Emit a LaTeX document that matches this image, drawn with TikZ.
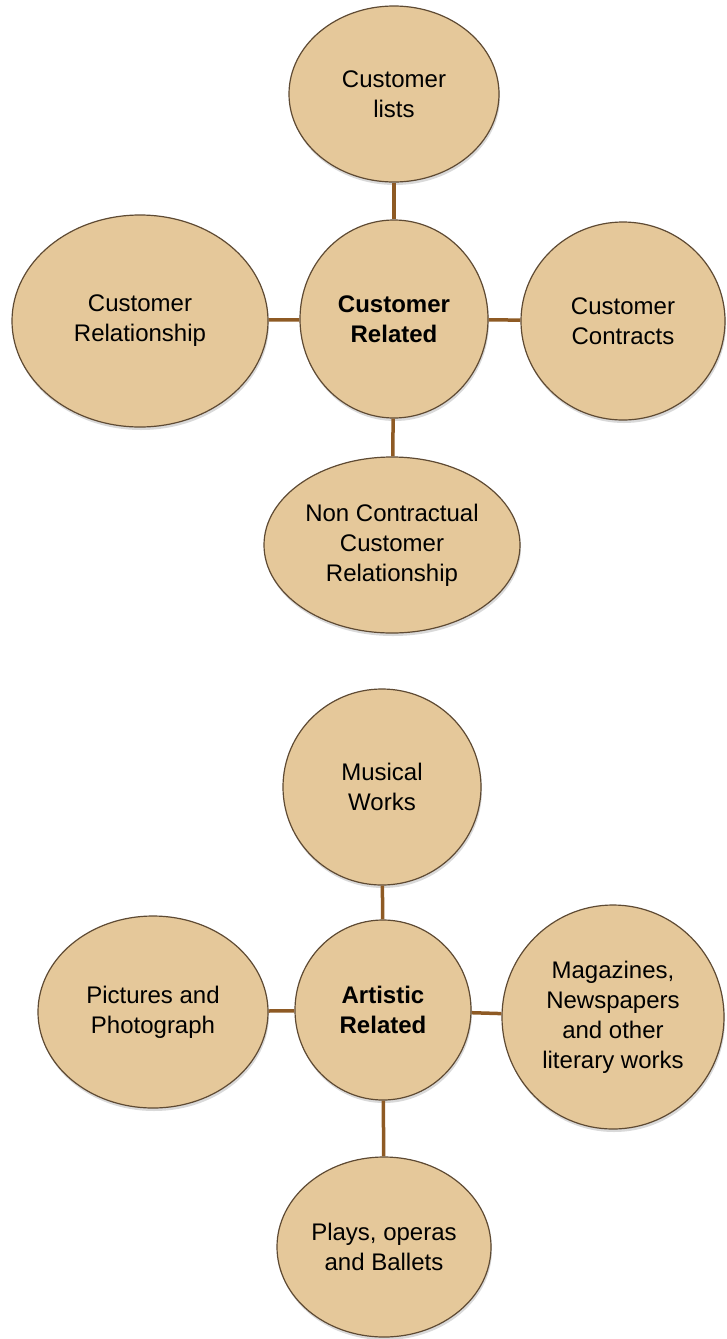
\documentclass[tikz,border=0pt]{standalone}
\usepackage{fontspec}
\setmainfont{Liberation Sans}
\usetikzlibrary{shapes.geometric,shadows}
\definecolor{tanfill}{HTML}{E5C89A}
\definecolor{tanedge}{HTML}{5E4A33}
\definecolor{linkbrown}{HTML}{8E5A24}
\tikzset{
  bubble/.style={ellipse, draw=tanedge, line width=1.2pt, fill=tanfill, inner sep=0pt,
    align=center, font=\fontsize{24}{30}\selectfont,
    drop shadow={shadow xshift=1pt, shadow yshift=-3pt, opacity=0.25, fill=black!60}},
  boldbubble/.style={bubble, font=\fontsize{24}{30}\selectfont\bfseries},
  link/.style={draw=linkbrown, line width=3.5pt}
}
\begin{document}
\begin{tikzpicture}[x=1pt,y=-1pt]
\useasboundingbox (0,0) rectangle (726,1339);
% Customer group
\node[bubble, minimum width=210pt, minimum height=176pt] (clists) at (394,94) {Customer\\lists};
\node[boldbubble, minimum width=188pt, minimum height=198pt] (crel) at (394,319) {Customer\\Related};
\node[bubble, minimum width=256pt, minimum height=212pt] (crship) at (140,321) {Customer\\Relationship};
\node[bubble, minimum width=204pt, minimum height=198pt] (ccont) at (623,321) {Customer\\Contracts};
\node[bubble, minimum width=256pt, minimum height=176pt] (noncon) at (392,545) {Non Contractual\\Customer\\Relationship};
\draw[link] (clists) -- (crel);
\draw[link] (crship) -- (crel);
\draw[link] (crel) -- (ccont);
\draw[link] (crel) -- (noncon);
% Artistic group
\node[bubble, minimum width=198pt, minimum height=196pt] (music) at (382,787) {Musical\\Works};
\node[boldbubble, minimum width=176pt, minimum height=180pt] (arel) at (383,1010) {Artistic\\Related};
\node[bubble, minimum width=230pt, minimum height=192pt] (pics) at (153,1012) {Pictures and\\Photograph};
\node[bubble, minimum width=222pt, minimum height=224pt] (mags) at (613,1017) {Magazines,\\Newspapers\\and other\\literary works};
\node[bubble, minimum width=214pt, minimum height=180pt] (plays) at (384,1247) {Plays, operas\\and Ballets};
\draw[link] (music) -- (arel);
\draw[link] (pics) -- (arel);
\draw[link] (arel) -- (mags);
\draw[link] (arel) -- (plays);
\end{tikzpicture}
\end{document}
